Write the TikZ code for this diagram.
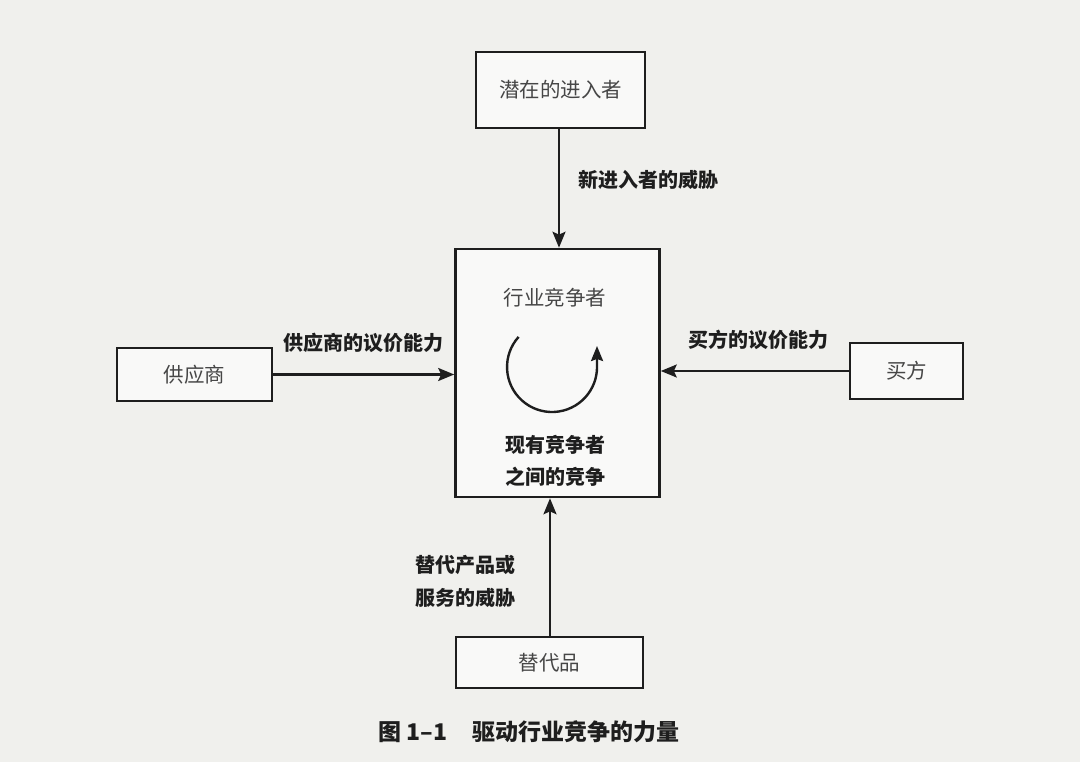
\documentclass[tikz,border=0pt]{standalone}
\usepackage{fontspec}
\newfontfamily\cjk{Noto Sans CJK SC}
\usetikzlibrary{arrows.meta}
\definecolor{paper}{RGB}{240,240,237}
\definecolor{ink}{RGB}{30,30,30}
\definecolor{soft}{RGB}{70,70,70}
\tikzset{
  fbox/.style={draw=ink, line width=2.6pt, rectangle, fill=white!60!paper, inner sep=0pt,
    font=\cjk\fontsize{20.5}{24}\selectfont, text=soft},
  flab/.style={inner sep=0pt, font=\cjk\bfseries\fontsize{20}{33}\selectfont, text=ink, align=left},
  intext/.style={inner sep=0pt, font=\cjk\fontsize{20.5}{24}\selectfont, text=soft},
  inlab/.style={inner sep=0pt, font=\cjk\bfseries\fontsize{20}{32}\selectfont, text=ink, align=center},
  captxt/.style={inner sep=0pt, font=\cjk\bfseries\fontsize{23}{26}\selectfont, text=ink},
  conn/.style={draw=ink, line width=2.4pt, -{Stealth[length=16pt,width=13pt,inset=3pt]}},
}
\begin{document}
\begin{tikzpicture}[x=1pt,y=-1pt]
\useasboundingbox[fill=paper] (0,0) rectangle (1080,762);
\node[fbox, minimum width=169pt, minimum height=76pt] (top) at (560.5,90) {潜在的进入者};
\node[fbox, minimum width=204pt, minimum height=248pt] (ctr) at (557.5,373) {};
\node[fbox, minimum width=155pt, minimum height=53pt] (sup) at (194.5,374.5) {供应商};
\node[fbox, minimum width=113pt, minimum height=56pt] (buy) at (906.5,371) {买方};
\node[fbox, minimum width=187pt, minimum height=51pt] (sub) at (549.5,662.5) {替代品};

\draw[conn] (559,128) coordinate (ta) -- (ta |- ctr.north);
\draw[conn] (sup.east) -- (sup.east -| ctr.west);
\draw[conn] (buy.west) -- (buy.west -| ctr.east);
\draw[conn] (550,637) coordinate (sa) -- (sa |- ctr.south);

\node[flab, anchor=west] (l1) at (578,180) {新进入者的威胁};
\node[flab, anchor=west] (l2) at (283,343) {供应商的议价能力};
\node[flab, anchor=west] (l3) at (688,340) {买方的议价能力};
\node[flab, anchor=west] (l4) at (415,581.5) {替代产品或\\服务的威胁};

\node[intext] (t1) at (555,298) {行业竞争者};
\node[inlab] (t2) at (555,461) {现有竞争者\\之间的竞争};

\draw[draw=ink, line width=2.4pt, -{Stealth[length=15pt,width=12pt,inset=2pt]}]
  (518.6,336.9) arc[start angle=-138, end angle=-360, radius=45] -- (597,346);

\node[captxt, anchor=west] (c1) at (378,732) {图 1–1};
\node[captxt, anchor=west] (c2) at (472,732) {驱动行业竞争的力量};
\end{tikzpicture}
\end{document}
